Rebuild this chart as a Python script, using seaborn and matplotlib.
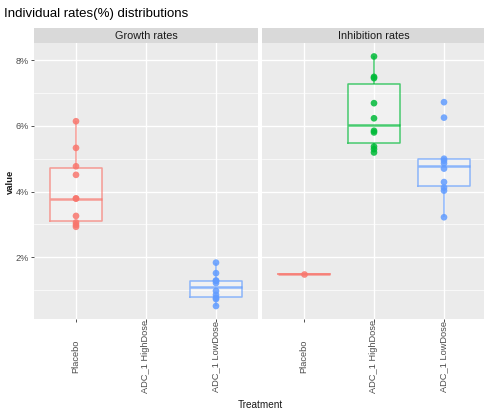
import numpy as np
import pandas as pd
import matplotlib
matplotlib.use("Agg")
import matplotlib.pyplot as plt
from matplotlib.patches import Rectangle
from matplotlib.ticker import FuncFormatter, FixedLocator
import seaborn as sns

# ---- data (values in %) ----
treatments = ["Placebo", "ADC_1 HighDose", "ADC_1 LowDose"]
facets = ["Growth rates", "Inhibition rates"]
colors = ["#F8766D", "#00BA38", "#619CFF"]

growth_placebo = [6.14, 5.33, 4.77, 4.51, 3.79, 3.79, 3.26, 3.06, 2.99, 2.93]
growth_highdose = []
growth_lowdose = [1.84, 1.52, 1.29, 1.29, 1.22, 0.98, 0.86, 0.77, 0.73, 0.52]
inhib_placebo = [1.48]
inhib_highdose = [8.11, 7.49, 7.45, 6.69, 6.23, 5.85, 5.80, 5.37, 5.29, 5.19]
inhib_lowdose = [6.72, 6.25, 5.00, 4.94, 4.86, 4.70, 4.29, 4.12, 4.03, 3.22]

yticks = [2, 4, 6, 8]
yminor = [1, 3, 5, 7]

rows = []
for facet, groups in zip(facets, [[growth_placebo, growth_highdose, growth_lowdose],
                                  [inhib_placebo, inhib_highdose, inhib_lowdose]]):
    for t, vals in zip(treatments, groups):
        for v in vals:
            rows.append({"facet": facet, "Treatment": t, "value": v})
df = pd.DataFrame(rows)
pal = dict(zip(treatments, colors))

plt.rcParams['font.family'] = ['Liberation Sans', 'DejaVu Sans']

W, H = 485, 411
fig = plt.figure(figsize=(W / 100, H / 100), dpi=100)
fig.patch.set_facecolor("white")

bottom = (H - 318.5) / H
height = 275.5 / H
axes = [fig.add_axes([34 / W, bottom, 224 / W, height]),
        fig.add_axes([262 / W, bottom, 224 / W, height])]

for i, (ax, facet) in enumerate(zip(axes, facets)):
    sub = df[df["facet"] == facet]
    ax.set_facecolor("#EBEBEB")
    # light box fill
    sns.boxplot(data=sub, x="Treatment", y="value", order=treatments, color="white",
                width=0.75, showfliers=False, showcaps=False, linewidth=0,
                boxprops=dict(facecolor=(1, 1, 1, 0.35), edgecolor="none"),
                whiskerprops=dict(linewidth=0), medianprops=dict(linewidth=0),
                ax=ax)
    n_before = len(ax.lines)
    sns.boxplot(data=sub, x="Treatment", y="value", hue="Treatment", order=treatments,
                hue_order=treatments, palette=pal, fill=False, width=0.75,
                showfliers=False, showcaps=False, linewidth=1.1, legend=False,
                medianprops=dict(linewidth=1.8), ax=ax)
    for ln in ax.lines[n_before:]:
        ln.set_alpha(0.7)
    sns.stripplot(data=sub, x="Treatment", y="value", hue="Treatment", order=treatments,
                  hue_order=treatments, palette=pal, jitter=False, size=4.8,
                  alpha=0.85, linewidth=0, legend=False, ax=ax, zorder=4)

    ax.set_xlim(-0.6, 2.6)
    ax.set_ylim(0.14, 8.52)
    ax.yaxis.set_major_locator(FixedLocator(yticks))
    ax.yaxis.set_minor_locator(FixedLocator(yminor))
    ax.yaxis.set_major_formatter(FuncFormatter(lambda v, p: f"{v:.0f}%"))
    ax.grid(True, which="major", color="white", linewidth=1.0)
    ax.grid(True, which="minor", axis="y", color="white", linewidth=0.5)
    ax.set_axisbelow(True)
    for s in ax.spines.values():
        s.set_visible(False)
    ax.set_xlabel("")
    ax.set_ylabel("")
    ax.tick_params(axis="both", which="major", length=2.5, width=0.6, color="#333333",
                   labelcolor="#4D4D4D", labelsize=6.6)
    ax.tick_params(axis="y", which="major", pad=1.0)
    ax.tick_params(axis="y", which="minor", length=0)
    ax.set_xticks(range(3))
    ax.set_xticklabels(treatments, rotation=90, va="center", ha="center")
    ax.tick_params(axis="x", pad=25, labelsize=6.7)
    if i == 1:
        ax.tick_params(axis="y", which="major", length=0, labelleft=False)
    # strip
    sh = 14.5 / 275.5
    ax.add_patch(Rectangle((0, 1), 1, sh, transform=ax.transAxes, clip_on=False,
                           facecolor="#D9D9D9", edgecolor="none"))
    ax.text(0.5, 1 + sh / 2, facet, transform=ax.transAxes, ha="center", va="center",
            fontsize=7.8, color="#1A1A1A")

fig.text(4 / W, 1 - 14 / H, "Individual rates(%) distributions", ha="left", va="center",
         fontsize=9.5, color="#000000")
fig.text(10.5 / W, 1 - 182 / H, "value", rotation=90, ha="center", va="center",
         fontsize=6.8, fontweight="bold", color="#1A1A1A")
fig.text(260 / W, 1 - 405 / H, "Treatment", ha="center", va="center",
         fontsize=7.2, color="#1A1A1A")

fig.savefig("out.png", dpi=100)
